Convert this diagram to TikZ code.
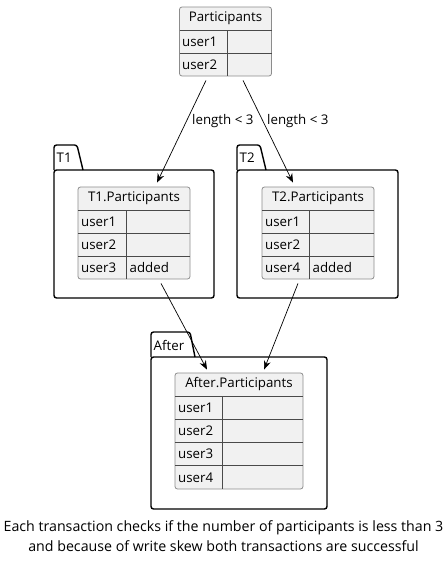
\documentclass[tikz,border=0pt]{standalone}
\usepackage{fontspec}
\setmainfont{Open Sans}
\usetikzlibrary{positioning,arrows.meta}
\definecolor{cellfill}{HTML}{F1F1F1}
\definecolor{cellline}{HTML}{8C8C8C}
\definecolor{rowline}{HTML}{4A4A4A}

\tikzset{
  tbl/.style={draw=cellline, fill=cellfill, rounded corners=2.5pt, inner sep=0pt, line width=0.8pt},
  sep/.style={draw=rowline, line width=0.8pt},
  cell/.style={anchor=west, inner sep=0pt},
  pkg/.style={draw=black, line width=1.4pt, rounded corners=2.5pt},
  arr/.style={-{Stealth[length=9pt,width=7pt,inset=3pt]}, line width=0.7pt}
}

\begin{document}
\begin{tikzpicture}[x=1pt,y=-1pt,font=\fontsize{13.3}{15}\selectfont]
\useasboundingbox (0,0) rectangle (447,563);

% packages
\draw[pkg] (54,170) |- (77,145) -- (83,170);
\draw[pkg] (54,170) rectangle (214,298);
\node[cell] (t1tab) at (56.5,158) {T1};
\draw[pkg] (237,170) |- (260,145) -- (266,170);
\draw[pkg] (237,170) rectangle (398,298);
\node[cell] (t2tab) at (239.5,158) {T2};
\draw[pkg] (151,357) |- (190,332) -- (195,357);
\draw[pkg] (151,357) rectangle (327,509);
\node[cell] (aftertab) at (153.5,345) {After};

% Participants
\node[tbl, minimum width=92, minimum height=69] (part) at (225.5,41.5) {};
\node (parthead) at (225.5,18.5) {Participants};
\draw[sep] (179.5,30) -- (271.5,30) (179.5,53) -- (271.5,53) (227,30) -- (227,76);
\foreach \r/\t in {1/user1, 2/user2}
  \node[cell] at (182,18.5+23*\r) {\t};

% T1.Participants
\node[tbl, minimum width=112, minimum height=92] (t1part) at (134,233) {};
\node (t1head) at (134,198.5) {T1.Participants};
\foreach \r in {1,2,3}
  \draw[sep] (78,187+23*\r) -- (190,187+23*\r);
\draw[sep] (126,210) -- (126,279);
\foreach \r/\t in {1/user1, 2/user2, 3/user3}
  \node[cell] at (81,198.5+23*\r) {\t};
\node[cell] at (129.5,267.5) {added};

% T2.Participants
\node[tbl, minimum width=112, minimum height=92] (t2part) at (318,233) {};
\node (t2head) at (318,198.5) {T2.Participants};
\foreach \r in {1,2,3}
  \draw[sep] (262,187+23*\r) -- (374,187+23*\r);
\draw[sep] (309,210) -- (309,279);
\foreach \r/\t in {1/user1, 2/user2, 3/user4}
  \node[cell] at (265,198.5+23*\r) {\t};
\node[cell] at (312.5,267.5) {added};

% After.Participants
\node[tbl, minimum width=128, minimum height=116] (afterpart) at (239,431) {};
\node (afterhead) at (239,384.5) {After.Participants};
\foreach \r in {1,2,3,4}
  \draw[sep] (175,373+23.2*\r) -- (303,373+23.2*\r);
\draw[sep] (222,396.2) -- (222,489);
\foreach \r/\t in {1/user1, 2/user2, 3/user3, 4/user4}
  \node[cell] at (178,384.6+23.2*\r) {\t};

% arrows
\draw[arr] ([shift={(-19.5,4)}]part.south) -- ([shift={(23,-4)}]t1part.north);
\draw[arr] ([shift={(17.5,4)}]part.south) -- ([shift={(-25,-4)}]t2part.north);
\node[cell] (lbl1) at (192,121) {length < 3};
\node[cell] (lbl2) at (267,121) {length < 3};
\draw[arr] ([shift={(27,4)}]t1part.south) -- ([shift={(-32,-3)}]afterpart.north);
\draw[arr] ([shift={(-20,4)}]t2part.south) -- ([shift={(25,-3)}]afterpart.north);

% caption
\node[align=center, font=\fontsize{14.2}{20}\selectfont] (caption) at (223.5,536) {Each transaction checks if the number of participants is less than 3\\and because of write skew both transactions are successful};

\end{tikzpicture}
\end{document}
